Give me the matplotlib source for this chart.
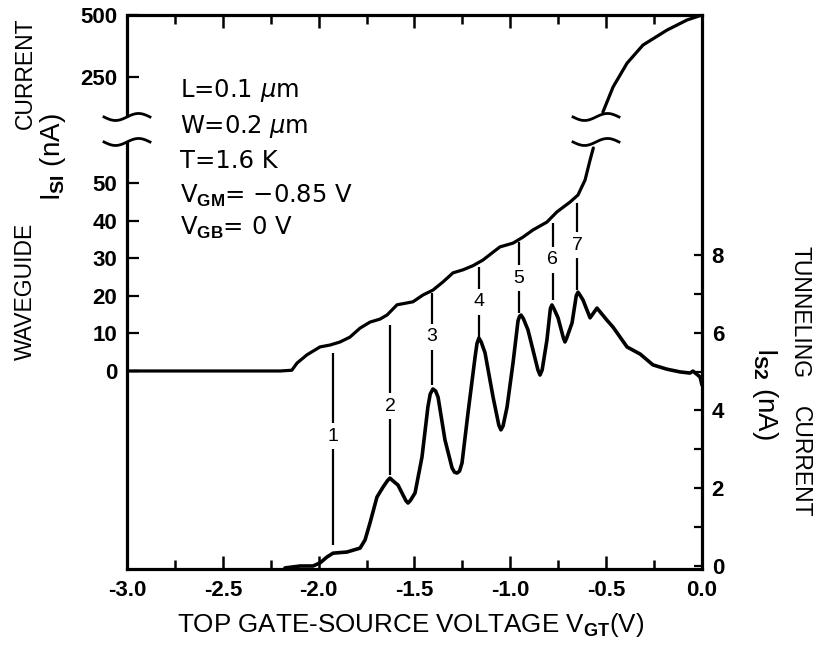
import numpy as np
import matplotlib
matplotlib.use("Agg")
import matplotlib.pyplot as plt
from matplotlib.lines import Line2D
from matplotlib.ticker import FixedLocator, FixedFormatter

# ---------------- data ----------------
# waveguide current I_S1 (nA), lower branch (below the axis break)
wg_v_low = [-3.0, -2.20, -2.14, -2.113, -2.061, -1.993, -1.941, -1.889, -1.837, -1.784,
            -1.732, -1.680, -1.643, -1.591, -1.539, -1.508, -1.456, -1.404, -1.351, -1.299,
            -1.247, -1.195, -1.143, -1.090, -1.054, -0.986, -0.934, -0.882, -0.809, -0.757,
            -0.689, -0.647, -0.610, -0.584, -0.567]
wg_i_low = [0, 0, 0.2, 2.1, 4.3, 6.4, 6.9, 7.7, 9.0, 11.4,
            13.0, 13.8, 14.9, 17.6, 18.1, 18.4, 20.2, 21.5, 23.7, 26.1,
            26.9, 28.0, 29.5, 31.6, 33.0, 34.0, 35.6, 37.5, 39.6, 42.3,
            44.9, 46.8, 50.8, 56.1, 59.3]
# upper branch (above the axis break)
wg_v_high = [-0.517, -0.464, -0.391, -0.308, -0.183, -0.078, 0.0]
wg_i_high = [109, 210, 306, 379, 439, 480, 500]

# tunneling current I_S2 (nA)
tun_v = [-2.176, -2.097, -2.030, -1.993, -1.957, -1.925, -1.852, -1.784, -1.758, -1.732,
         -1.696, -1.664, -1.640, -1.628, -1.615, -1.586, -1.545, -1.534, -1.522, -1.497,
         -1.461, -1.430, -1.418, -1.404, -1.390, -1.377, -1.341, -1.304, -1.291, -1.278,
         -1.265, -1.252, -1.221, -1.184, -1.174, -1.164, -1.152, -1.132, -1.090, -1.060,
         -1.049, -1.038, -1.017, -0.986, -0.960, -0.952, -0.944, -0.932, -0.908, -0.856,
         -0.845, -0.834, -0.809, -0.791, -0.783, -0.773, -0.751, -0.723, -0.715, -0.706,
         -0.678, -0.656, -0.647, -0.636, -0.621, -0.584, -0.548, -0.496, -0.464, -0.391,
         -0.323, -0.256, -0.183, -0.115, -0.063, -0.047, -0.010, 0.0]
tun_i = [-0.05, 0.0, 0.0, 0.08, 0.23, 0.33, 0.36, 0.46, 0.67, 1.11,
         1.77, 2.03, 2.20, 2.26, 2.20, 2.08, 1.68, 1.62, 1.68, 1.88,
         2.80, 4.09, 4.42, 4.55, 4.50, 4.34, 3.24, 2.52, 2.41, 2.39,
         2.44, 2.65, 3.93, 5.37, 5.72, 5.86, 5.76, 5.48, 4.34, 3.62,
         3.50, 3.60, 4.09, 5.22, 6.30, 6.42, 6.45, 6.36, 6.07, 5.04,
         4.91, 5.04, 5.81, 6.62, 6.71, 6.62, 6.38, 5.86, 5.76, 5.86,
         6.25, 6.95, 7.04, 6.96, 6.84, 6.38, 6.63, 6.32, 6.14, 5.63,
         5.45, 5.17, 5.06, 4.99, 4.96, 5.01, 4.86, 4.65]

# numbered peak markers (in tunneling-axis units)
marker_text = ["1", "2", "3", "4", "5", "6", "7"]
marker_v = [-1.925, -1.628, -1.409, -1.164, -0.955, -0.778, -0.652]
marker_top = [5.48, 6.20, 7.02, 7.69, 8.33, 8.82, 9.33]
marker_label = [3.34, 4.11, 5.89, 6.79, 7.40, 7.87, 8.25]
marker_bottom = [0.54, 2.34, 4.65, 5.86, 6.50, 6.84, 7.10]

# ticks
x_major = [-3.0, -2.5, -2.0, -1.5, -1.0, -0.5, 0.0]
x_major_labels = ["-3.0", "-2.5", "-2.0", "-1.5", "-1.0", "-0.5", "0.0"]
x_minor = [-2.75, -2.25, -1.75, -1.25, -0.75, -0.25]
left_ticks = [0, 10, 20, 30, 40, 50, 250, 500]
left_labels = ["0", "10", "20", "30", "40", "50", "250", "500"]
right_major = [0, 2, 4, 6, 8]
right_minor = [1, 3, 5, 7]

params = ["L=0.1 $\\mu$m", "W=0.2 $\\mu$m", "T=1.6 K",
          "V$_{\\mathbf{GM}}$= \u22120.85 V", "V$_{\\mathbf{GB}}$= 0 V"]

# ---------------- style ----------------
plt.rcParams["font.family"] = ["Liberation Sans", "DejaVu Sans"]
plt.rcParams["mathtext.fontset"] = "custom"
plt.rcParams["mathtext.rm"] = "Liberation Sans"
plt.rcParams["mathtext.bf"] = "Liberation Sans:bold"
plt.rcParams["mathtext.it"] = "DejaVu Sans:italic"
plt.rcParams["axes.unicode_minus"] = False

LW = 2.3
W, H = 820, 646
fig = plt.figure(figsize=(W / 100, H / 100), dpi=100)
ax = fig.add_axes([127 / W, 1 - 569 / H, 575 / W, 554 / H])

# broken (piecewise-linear) scale for the waveguide current axis
I_BREAK_LO, I_BREAK_HI = 60.9, 89.3
I_KNOTS = [-100.0, I_BREAK_LO, I_BREAK_HI, 600.0]
U_KNOTS = [198 - 376.0, 427.0, 452.0, 578.8]


def fwd(v):
    return np.interp(v, I_KNOTS, U_KNOTS)


def inv(u):
    return np.interp(u, U_KNOTS, I_KNOTS)


ax.set_yscale("function", functions=(fwd, inv))
ax.set_xlim(-3.0, 0.0)
ax.set_ylim(-52.66, 500)

ax.plot(wg_v_low, wg_i_low, color="k", lw=LW, solid_capstyle="round", solid_joinstyle="round")
ax.plot(wg_v_high, wg_i_high, color="k", lw=LW, solid_capstyle="round", solid_joinstyle="round")

# right axis: tunneling current
ax2 = ax.twinx()
ax2.set_ylim(-0.077, 14.165)
ax2.plot(tun_v, tun_i, color="k", lw=2.6, solid_capstyle="round", solid_joinstyle="round")

GAP = 0.33
for txt, v, top, lab, bot in zip(marker_text, marker_v, marker_top, marker_label, marker_bottom):
    ax2.plot([v, v], [top, lab + GAP], color="k", lw=1.6, solid_capstyle="butt")
    ax2.plot([v, v], [lab - GAP, bot], color="k", lw=1.6, solid_capstyle="butt")
    ax2.text(v, lab, txt, ha="center", va="center", fontsize=14)

# spines
for s in ["top", "bottom", "right", "left"]:
    ax.spines[s].set_linewidth(LW)
    ax2.spines[s].set_visible(False)
ax.spines["left"].set_bounds(-52.66, I_BREAK_LO)
ax.plot([0, 0], [I_BREAK_HI, 500], color="k", lw=LW, transform=ax.get_yaxis_transform(),
        clip_on=False, solid_capstyle="butt")

# ticks
ax.xaxis.set_major_locator(FixedLocator(x_major))
ax.xaxis.set_major_formatter(FixedFormatter(x_major_labels))
ax.xaxis.set_minor_locator(FixedLocator(x_minor))
ax.yaxis.set_major_locator(FixedLocator(left_ticks))
ax.yaxis.set_major_formatter(FixedFormatter(left_labels))
ax.yaxis.set_minor_locator(FixedLocator([]))
ax.tick_params(axis="x", which="major", direction="in", length=9.5, width=1.8, top=True,
               pad=8, labelsize=16)
ax.tick_params(axis="x", which="minor", direction="in", length=6.5, width=1.8, top=True)
ax.tick_params(axis="y", which="major", direction="in", length=8.5, width=1.6, pad=7,
               labelsize=16)
for lab in ax.get_xticklabels() + ax.get_yticklabels():
    lab.set_fontweight("bold")

ax2.yaxis.set_major_locator(FixedLocator(right_major))
ax2.yaxis.set_minor_locator(FixedLocator(right_minor))
ax2.tick_params(axis="y", which="major", direction="in", length=6, width=1.6, pad=7,
                labelsize=16)
ax2.tick_params(axis="y", which="minor", direction="in", length=6, width=1.6)
for lab in ax2.get_yticklabels():
    lab.set_fontweight("bold")

# break marks (wavy)
to_fig = fig.transFigure.inverted()


def wave(cx, cy, half=23, amp=3.5):
    t = np.linspace(-1, 1, 60)
    pts = np.column_stack([cx + t * half, cy + amp * np.sin(np.pi * t)])
    f = to_fig.transform(pts)
    fig.add_artist(Line2D(f[:, 0], f[:, 1], color="k", lw=2.0, transform=fig.transFigure))


x_spine = ax.transAxes.transform((0, 0))[0]
x_curve = ax.transData.transform((-0.553, 0))[0]
for ib in (I_BREAK_LO, I_BREAK_HI):
    yb = ax.transData.transform((0, ib))[1]
    wave(x_spine, yb)
    wave(x_curve, yb)

# parameter block
for txt, ybase in zip(params, [97, 133, 168, 203, 235]):
    fig.text(180 / W, 1 - ybase / H, txt, fontsize=17.5, va="baseline", ha="left",
             family=["DejaVu Sans"])

# axis labels
fig.text(411 / W, 1 - 632 / H, "TOP GATE-SOURCE VOLTAGE V$_{\\mathbf{GT}}$(V)",
         ha="center", va="baseline", fontsize=18.7)
fig.text(25 / W, 1 - 73 / H, "CURRENT", rotation=90, ha="center", va="center",
         fontsize=16.5)
fig.text(25 / W, 1 - 291 / H, "WAVEGUIDE", rotation=90, ha="center", va="center",
         fontsize=16.5)
fig.text(53 / W, 1 - 157 / H, "I$_{\\mathbf{SI}}$ (nA)", rotation=90, ha="center",
         va="center", fontsize=20)
fig.text(800 / W, 1 - 312 / H, "TUNNELING", rotation=-90, ha="center", va="center",
         fontsize=16.5)
fig.text(800 / W, 1 - 462 / H, "CURRENT", rotation=-90, ha="center", va="center",
         fontsize=16.5)
fig.text(765 / W, 1 - 394 / H, "I$_{\\mathbf{S2}}$ (nA)", rotation=-90, ha="center",
         va="center", fontsize=20)

fig.savefig("out.png", dpi=100)
